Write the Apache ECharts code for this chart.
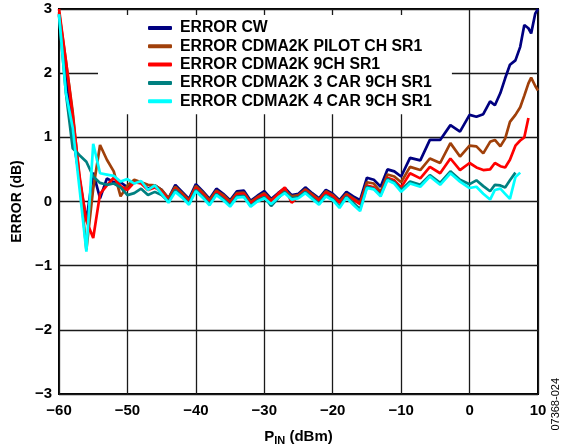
<!DOCTYPE html>
<html><head><meta charset="utf-8">
<script src="https://cdn.jsdelivr.net/npm/echarts@6/dist/echarts.min.js"></script>
<style>html,body{margin:0;padding:0;background:#fff}#c{width:565px;height:446px}</style>
</head><body><div id="c"></div>
<script>
var xs = [-60,-59,-58,-57,-56,-55,-54,-53,-52,-51,-50,-49,-48,-47,-46,-45,-44,-43,-42,-41,-40,-39,-38,-37,-36,-35,-34,-33,-32,-31,-30,-29,-28,-27,-26,-25,-24,-23,-22,-21,-20,-19,-18,-17,-16,-15,-14,-13,-12,-11,-10,-8.7,-7.2,-5.8,-4.3,-2.8,-1.4,0,1,2,3,3.7,4.5,5.2,5.9,6.7,7.4,8,8.6,9,9.6,10];
var errCW = [2.92,2.0,1.05,0.35,-0.3,0.45,0.05,0.36,0.3,0.3,0.22,0.3,0.3,0.2,0.25,0.18,0.05,0.26,0.15,0.04,0.27,0.16,0.04,0.2,0.12,0.02,0.16,0.17,0.01,0.09,0.16,0.04,0.13,0.21,0.1,0.12,0.22,0.13,0.05,0.18,0.12,0.02,0.15,0.08,0.02,0.37,0.34,0.23,0.5,0.47,0.39,0.68,0.64,0.96,0.96,1.19,1.09,1.35,1.32,1.36,1.56,1.5,1.69,1.92,2.13,2.2,2.41,2.75,2.7,2.62,2.93,3.0];
var errPilot = [2.95,2.2,1.4,0.35,-0.75,0.2,0.88,0.65,0.47,0.08,0.25,0.34,0.3,0.26,0.25,0.18,0.05,0.23,0.13,0.02,0.24,0.14,0.02,0.17,0.1,0.0,0.13,0.14,-0.01,0.07,0.13,0.02,0.11,0.18,0.08,0.1,0.19,0.11,0.03,0.16,0.1,0.0,0.12,0.05,-0.02,0.3,0.28,0.15,0.42,0.39,0.3,0.54,0.49,0.67,0.6,0.91,0.7,0.87,0.86,0.75,0.93,0.96,0.86,0.98,1.24,1.35,1.47,1.65,1.84,1.93,1.8,1.73];
var err9ch = [3.0,2.2,1.35,0.4,-0.3,-0.57,0.12,0.25,0.37,0.24,0.18,0.3,0.28,0.18,0.22,0.15,0.02,0.2,0.1,0.0,0.21,0.11,-0.01,0.15,0.07,-0.03,0.11,0.12,-0.03,0.05,0.11,0.0,0.12,0.22,-0.02,0.08,0.17,0.09,0.01,0.14,0.08,-0.02,0.1,0.03,-0.04,0.25,0.22,0.12,0.37,0.33,0.22,0.44,0.36,0.54,0.44,0.67,0.49,0.6,0.53,0.49,0.5,0.6,0.55,0.53,0.65,0.87,0.95,1.0,1.3,null,null,null];
var err3car = [2.9,1.7,0.83,0.72,0.62,0.39,0.29,0.26,0.28,0.22,0.1,0.13,0.2,0.1,0.15,0.1,0.0,0.18,0.08,-0.03,0.18,0.08,-0.04,0.12,0.04,-0.06,0.08,0.09,-0.07,0.02,0.07,-0.07,0.05,0.15,0.05,0.07,0.15,0.06,-0.03,0.1,0.04,-0.08,0.08,-0.02,-0.12,0.23,0.2,0.1,0.35,0.3,0.18,0.31,0.26,0.41,0.29,0.47,0.34,0.27,0.33,0.24,0.16,0.26,0.25,0.22,0.33,0.45,null,null,null,null,null,null];
var err4car = [2.92,1.7,1.15,0.2,-0.78,0.9,0.44,0.42,0.4,0.31,0.35,0.28,0.32,0.18,0.25,0.12,-0.02,0.15,0.06,-0.05,0.16,0.06,-0.06,0.1,0.02,-0.08,0.06,0.07,-0.08,0.0,0.05,-0.04,0.06,0.13,0.03,0.05,0.13,0.04,-0.05,0.08,0.02,-0.1,0.06,-0.05,-0.15,0.21,0.19,0.08,0.33,0.28,0.15,0.28,0.23,0.39,0.26,0.44,0.31,0.21,0.23,0.12,0.03,0.18,0.2,0.12,0.04,0.38,0.45,null,null,null,null,null];
var names = ['ERROR CW','ERROR CDMA2K PILOT CH SR1','ERROR CDMA2K 9CH SR1','ERROR CDMA2K 3 CAR 9CH SR1','ERROR CDMA2K 4 CAR 9CH SR1'];
var colors = ['#000080','#A0400A','#FF0000','#008080','#00FFFF'];
var xTicks = [-60,-50,-40,-30,-20,-10,0,10];
var yTicks = [-3,-2,-1,0,1,2,3];

var FF = '"Liberation Sans", Arial, sans-serif';
function pairs(ys){var out=[];for(var i=0;i<xs.length;i++){if(ys[i]!==null)out.push([xs[i],ys[i]]);}return out;}
function fmt(v){return String(v).replace('-','\u2212');}
var all=[errCW,errPilot,err9ch,err3car,err4car];
var series = all.map(function(ys,k){return {name:names[k],type:'line',data:pairs(ys),symbol:'none',smooth:false,
  lineStyle:{color:colors[k],width:2.7},itemStyle:{color:colors[k]},z:2+k,animation:false};});

var chart = echarts.init(document.getElementById('c'),null,{renderer:'canvas'});
chart.setOption({
  animation:false,
  backgroundColor:'#fff',
  grid:{left:59,right:27,top:9,bottom:52,show:true,borderColor:'#000',borderWidth:2,backgroundColor:'transparent',containLabel:false,outerBoundsMode:'none'},
  legend:{left:98,top:15,orient:'vertical',backgroundColor:'#fff',padding:[5,20,5,50],itemGap:2.3,
    icon:'roundRect',itemWidth:24,itemHeight:4,
    textStyle:{fontFamily:FF,fontWeight:'bold',fontSize:15.8,color:'#000',lineHeight:16,padding:[0,0,0,3]},
    data:names},
  xAxis:{type:'value',min:-60,max:10,interval:10,
    axisLine:{show:false},axisTick:{show:false},
    splitLine:{show:true,lineStyle:{color:'#1a1a1a',width:1.3}},
    axisLabel:{fontFamily:FF,fontWeight:'bold',fontSize:15,color:'#000',margin:9,formatter:function(v){return xTicks.indexOf(v)>=0?fmt(v):'';}},
    name:'{a|P}{b|IN}{a| (dBm)}',nameLocation:'middle',nameGap:33,
    nameTextStyle:{rich:{a:{fontFamily:FF,fontWeight:'bold',fontSize:15,color:'#000'},b:{fontFamily:FF,fontWeight:'bold',fontSize:11,color:'#000',verticalAlign:'bottom',padding:[8,0,0,0]}}}},
  yAxis:{type:'value',min:-3,max:3,interval:1,
    axisLine:{show:false},axisTick:{show:false},
    splitLine:{show:true,lineStyle:{color:'#1a1a1a',width:1.3}},
    axisLabel:{fontFamily:FF,fontWeight:'bold',fontSize:15,color:'#000',margin:7,formatter:function(v){return yTicks.indexOf(v)>=0?fmt(v):'';}},
    name:'ERROR (dB)',nameLocation:'middle',nameGap:33,nameRotate:90,
    nameTextStyle:{fontFamily:FF,fontWeight:'bold',fontSize:14,color:'#000'}},
  graphic:[{type:'text',left:550,top:378,rotation:Math.PI/2,
    style:{text:'07368-024',fontFamily:FF,fontSize:11,fill:'#000'}}],
  series:series
});
</script></body></html>
